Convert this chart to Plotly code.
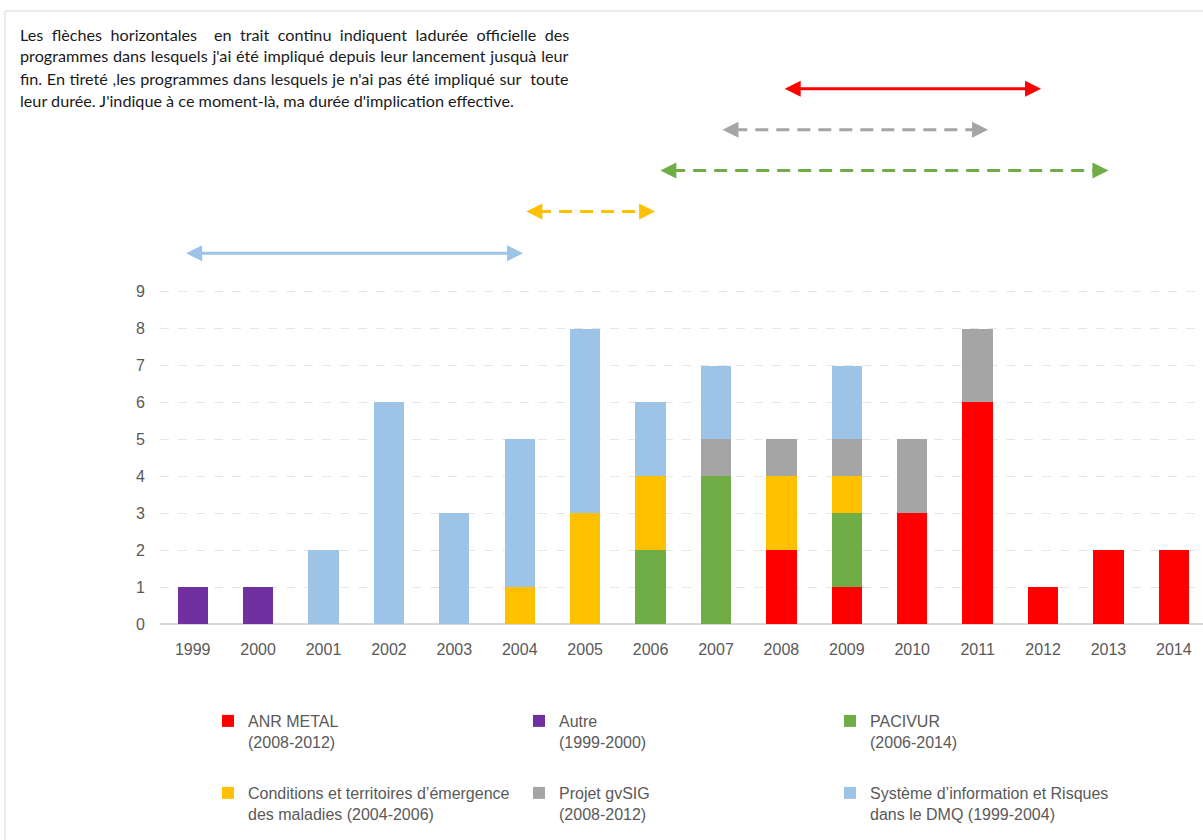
import plotly.graph_objects as go

# Years on the x axis
years = list(range(1999, 2015))

# Number of items per programme and per year (stacked bars, bottom to top)
anr_metal = [0, 0, 0, 0, 0, 0, 0, 0, 0, 2, 1, 3, 6, 1, 2, 2]
autre = [1, 1, 0, 0, 0, 0, 0, 0, 0, 0, 0, 0, 0, 0, 0, 0]
pacivur = [0, 0, 0, 0, 0, 0, 0, 2, 4, 0, 2, 0, 0, 0, 0, 0]
conditions = [0, 0, 0, 0, 0, 1, 3, 2, 0, 2, 1, 0, 0, 0, 0, 0]
gvsig = [0, 0, 0, 0, 0, 0, 0, 0, 1, 1, 1, 2, 2, 0, 0, 0]
si_dmq = [0, 0, 2, 6, 3, 4, 5, 2, 2, 0, 2, 0, 0, 0, 0, 0]

series_names = [
    "ANR METAL<br>(2008-2012)",
    "Autre<br>(1999-2000)",
    "PACIVUR<br>(2006-2014)",
    "Conditions et territoires d’émergence<br>des maladies (2004-2006)",
    "Projet gvSIG<br>(2008-2012)",
    "Système d’information et Risques<br>dans le DMQ (1999-2004)",
]
series_values = [anr_metal, autre, pacivur, conditions, gvsig, si_dmq]
series_colors = ["#FF0000", "#7030A0", "#70AD47", "#FFC000", "#A5A5A5", "#9DC3E6"]
# legend row of each series (three entries per row)
series_legend = ["legend", "legend", "legend", "legend2", "legend2", "legend2"]

# Programme periods shown as double arrows above the bars
arrow_start = [1998.9, 2004.1, 2006.15, 2007.1, 2008.05]
arrow_end = [2004.05, 2006.07, 2013.0, 2011.16, 2011.97]
arrow_dashed = [False, True, True, True, False]
arrow_colors = ["#9DC3E6", "#FFC000", "#70AD47", "#A5A5A5", "#FF0000"]
arrow_rows = [10.04, 11.17, 12.28, 13.39, 14.5]

y_ticks = list(range(0, 10))

note_lines = [
    "Les flèches horizontales  en trait continu indiquent ladurée officielle des",
    "programmes dans lesquels j'ai été impliqué depuis leur lancement jusquà leur",
    "fin. En tireté ,les programmes dans lesquels je n'ai pas été impliqué sur  toute",
    "leur durée. J'indique à ce moment-là, ma durée d'implication effective.",
]
# extra space between words so the first lines fill the paragraph width
note_word_spacing = [4.3, 0.6, 0.5, 0]

W, H = 1203, 840
M_L, M_R, M_T, M_B = 160, 0, 20, 216
plot_w = W - M_L - M_R
plot_h = H - M_T - M_B
px_per_year = 65.41
px_per_unit = 36.92


def px_x(p):
    return (p - M_L) / plot_w


def px_y(p):
    return (H - M_B - p) / plot_h


fig = go.Figure()

for name, vals, col, lg in zip(series_names, series_values, series_colors, series_legend):
    fig.add_trace(go.Bar(
        x=years,
        y=[v if v else None for v in vals],
        name=name,
        legend=lg,
        marker=dict(color=col, line=dict(width=0)),
        hoverinfo="skip",
    ))

head_off = 0.18
for x0, x1, dashed, col, row in zip(arrow_start, arrow_end, arrow_dashed, arrow_colors, arrow_rows):
    fig.add_trace(go.Scatter(
        x=[x0 + head_off, x1 - head_off],
        y=[row, row],
        mode="lines",
        line=dict(color=col, width=3, dash="13px,8px" if dashed else "solid"),
        showlegend=False,
        hoverinfo="skip",
    ))
    fig.add_trace(go.Scatter(
        x=[x0, x1],
        y=[row, row],
        mode="markers",
        marker=dict(symbol=["arrow-left", "arrow-right"], size=16, color=col,
                    line=dict(width=0)),
        cliponaxis=False,
        showlegend=False,
        hoverinfo="skip",
    ))

x_lo = 1998.5
x_hi = x_lo + plot_w / px_per_year
y_hi = plot_h / px_per_unit

legend_common = dict(
    orientation="h",
    xanchor="left",
    yanchor="top",
    entrywidth=266,
    entrywidthmode="pixels",
    valign="top",
    font=dict(size=16, color="#595959"),
    traceorder="normal",
    itemclick=False,
    itemdoubleclick=False,
    bgcolor="rgba(0,0,0,0)",
)

fig.update_layout(
    width=W,
    height=H,
    margin=dict(l=M_L, r=M_R, t=M_T, b=M_B, autoexpand=False),
    paper_bgcolor="white",
    plot_bgcolor="white",
    barmode="stack",
    bargap=0.537,
    font=dict(family="Liberation Sans, Arial, sans-serif", size=16, color="#595959"),
    xaxis=dict(
        range=[x_lo, x_hi],
        tickvals=years,
        ticktext=[str(y) for y in years],
        showgrid=False,
        zeroline=False,
        showline=False,
        ticks="",
        ticklabelstandoff=14,
        tickfont=dict(size=16, color="#595959"),
    ),
    yaxis=dict(
        range=[0, y_hi],
        tickvals=y_ticks,
        showgrid=True,
        gridcolor="#E6E6E6",
        griddash="dash",
        gridwidth=1,
        zeroline=True,
        zerolinecolor="#D9D9D9",
        zerolinewidth=2,
        ticks="",
        ticklabelstandoff=14,
        tickfont=dict(size=16, color="#595959"),
    ),
    legend=dict(legend_common, x=px_x(208), y=px_y(704)),
    legend2=dict(legend_common, x=px_x(208), y=px_y(776)),
    showlegend=True,
)

# Thin frame around the whole chart
fig.add_shape(
    type="rect", xref="paper", yref="paper",
    x0=px_x(5), x1=px_x(W + 10),
    y0=px_y(H + 10), y1=px_y(11),
    line=dict(color="#D9D9D9", width=1), fillcolor="rgba(0,0,0,0)", layer="below",
)

# Explanatory note, one annotation per line
for i, (line, ws) in enumerate(zip(note_lines, note_word_spacing)):
    fig.add_annotation(
        text=f'<span style="word-spacing:{ws}px">{line}</span>',
        xref="paper", yref="paper",
        x=px_x(18),
        y=px_y(34 + 22 * i),
        xanchor="left", yanchor="middle",
        showarrow=False,
        font=dict(family="Lato, Open Sans, sans-serif", size=16.2, color="#1A1A1A"),
    )

fig.write_html("out.html")
